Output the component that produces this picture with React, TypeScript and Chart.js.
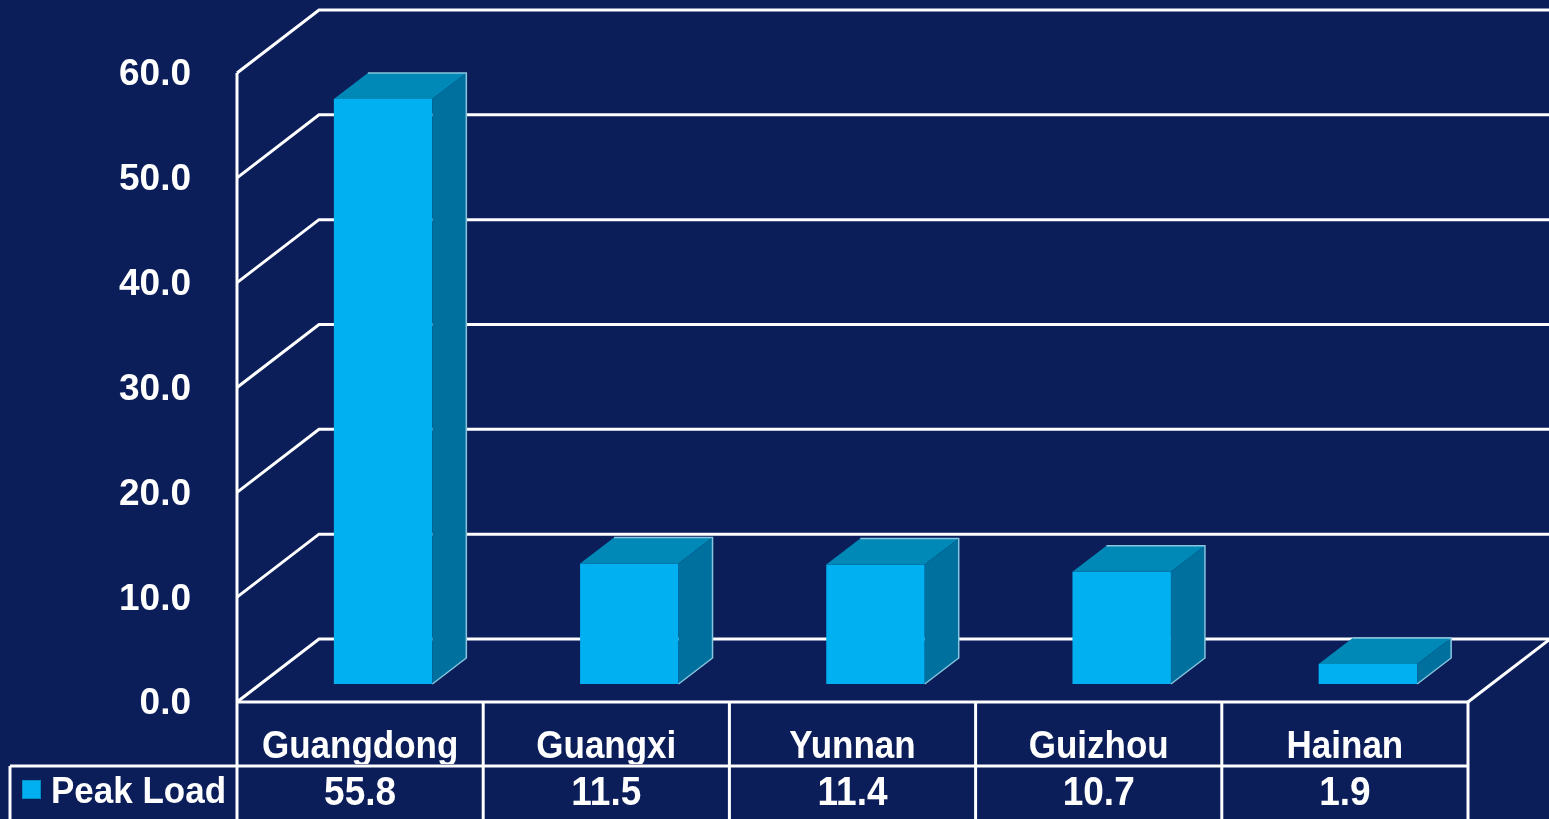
import React, { useEffect, useRef } from 'react';
import { Chart, registerables } from 'chart.js';

Chart.register(...registerables);

const categories = ['Guangdong', 'Guangxi', 'Yunnan', 'Guizhou', 'Hainan'];
const peakLoad = [55.8, 11.5, 11.4, 10.7, 1.9];
const seriesName = 'Peak Load';
const yTicks = [0, 10, 20, 30, 40, 50, 60];

const W = 1549;
const H = 819;
const BG = '#0b1e5a';
const FRONT = '#00b0f0';
const TOP = '#0088b6';
const SIDE = '#00709e';
const EDGE = '#86c6de';
const LINE = '#ffffff';
const FONT = 'Liberation Sans, Arial, sans-serif';

const WALL_DX = 82;
const WALL_DY = -63;
const BAR_OFF_X = 23;
const BAR_OFF_Y = -18;
const BAR_DX = 34;
const BAR_DY = -26;

function stretchText(ctx: CanvasRenderingContext2D, text: string, x: number, y: number, align: CanvasTextAlign, size: number, sy: number) {
  ctx.save();
  ctx.translate(x, y);
  ctx.scale(1, sy);
  ctx.font = `bold ${size}px ${FONT}`;
  ctx.textAlign = align;
  ctx.textBaseline = 'middle';
  ctx.fillStyle = '#ffffff';
  ctx.fillText(text, 0, 0);
  ctx.restore();
}

const plot3d = {
  id: 'plot3d',
  beforeDraw(chart: any) {
    const { ctx } = chart;
    ctx.save();
    ctx.fillStyle = BG;
    ctx.fillRect(0, 0, chart.width, chart.height);
    ctx.restore();
  },
  beforeDatasetsDraw(chart: any) {
    const { ctx, chartArea, scales } = chart;
    const { left, right, top, bottom } = chartArea;
    const y = scales.y;
    ctx.save();
    ctx.strokeStyle = LINE;
    ctx.lineWidth = 3;
    ctx.lineJoin = 'miter';
    ctx.lineCap = 'butt';
    yTicks.forEach((v) => {
      const py = y.getPixelForValue(v);
      ctx.beginPath();
      ctx.moveTo(left, py);
      ctx.lineTo(left + WALL_DX, py + WALL_DY);
      ctx.lineTo(v === 0 ? right + WALL_DX : chart.width, py + WALL_DY);
      ctx.stroke();
    });
    // right floor edge
    ctx.beginPath();
    ctx.moveTo(right, bottom);
    ctx.lineTo(right + WALL_DX, bottom + WALL_DY);
    ctx.stroke();
    // front axis
    ctx.beginPath();
    ctx.moveTo(left, top);
    ctx.lineTo(left, bottom);
    ctx.stroke();
    ctx.restore();
    ctx.save();
    ctx.translate(BAR_OFF_X, BAR_OFF_Y);
  },
  afterDatasetsDraw(chart: any) {
    const { ctx } = chart;
    const meta = chart.getDatasetMeta(0);
    meta.data.forEach((el: any) => {
      const { x, y, base, width } = el.getProps(['x', 'y', 'base', 'width'], true);
      const l = x - width / 2;
      const r = x + width / 2;
      ctx.fillStyle = TOP;
      ctx.beginPath();
      ctx.moveTo(l, y);
      ctx.lineTo(l + BAR_DX, y + BAR_DY);
      ctx.lineTo(r + BAR_DX, y + BAR_DY);
      ctx.lineTo(r, y);
      ctx.closePath();
      ctx.fill();
      ctx.fillStyle = SIDE;
      ctx.beginPath();
      ctx.moveTo(r, y);
      ctx.lineTo(r + BAR_DX, y + BAR_DY);
      ctx.lineTo(r + BAR_DX, base + BAR_DY);
      ctx.lineTo(r, base);
      ctx.closePath();
      ctx.fill();
      ctx.strokeStyle = EDGE;
      ctx.lineWidth = 1.5;
      ctx.beginPath();
      ctx.moveTo(l + BAR_DX, y + BAR_DY);
      ctx.lineTo(r + BAR_DX, y + BAR_DY);
      ctx.lineTo(r + BAR_DX, base + BAR_DY);
      ctx.lineTo(r, base);
      ctx.stroke();
    });
    ctx.restore();
  },
  afterDraw(chart: any) {
    const { ctx, chartArea, scales } = chart;
    const { left, right, bottom } = chartArea;
    const x = scales.x;
    const y = scales.y;
    const H2 = chart.height;
    const step = x.getPixelForValue(1) - x.getPixelForValue(0);
    const row1 = bottom;
    const row2 = bottom + 64;
    const legendLeft = 10;
    ctx.save();
    ctx.strokeStyle = LINE;
    ctx.lineWidth = 3;
    ctx.beginPath();
    ctx.moveTo(left, row1);
    ctx.lineTo(right, row1);
    ctx.moveTo(legendLeft, row2);
    ctx.lineTo(right, row2);
    for (let i = 0; i <= categories.length; i++) {
      const px = x.getPixelForValue(0) - step / 2 + i * step;
      ctx.moveTo(px, row1);
      ctx.lineTo(px, H2 + 2);
    }
    ctx.moveTo(legendLeft, row2);
    ctx.lineTo(legendLeft, H2 + 2);
    ctx.stroke();
    ctx.restore();

    // y labels
    yTicks.forEach((v) => {
      stretchText(ctx, v.toFixed(1), left - 46, y.getPixelForValue(v) + 2, 'right', 37, 1.02);
    });

    // category labels (clipped to row)
    ctx.save();
    ctx.beginPath();
    ctx.rect(0, row1 + 2, chart.width, row2 - row1 - 4);
    ctx.clip();
    categories.forEach((c, i) => {
      stretchText(ctx, c, x.getPixelForValue(i), row1 + 45, 'center', 35, 1.1);
    });
    ctx.restore();

    peakLoad.forEach((v, i) => {
      stretchText(ctx, v.toFixed(1), x.getPixelForValue(i), row2 + 28, 'center', 37, 1.08);
    });

    // legend
    ctx.save();
    ctx.fillStyle = FRONT;
    ctx.fillRect(22, row2 + 14, 19, 19);
    ctx.strokeStyle = '#0090c8';
    ctx.lineWidth = 1;
    ctx.strokeRect(22.5, row2 + 14.5, 18, 18);
    ctx.restore();
    stretchText(ctx, seriesName, 51, row2 + 27, 'left', 35, 1.08);
  },
};

export default function App() {
  const ref = useRef<HTMLCanvasElement | null>(null);
  useEffect(() => {
    document.body.style.margin = '0';
    document.body.style.background = BG;
    const canvas = ref.current;
    if (!canvas) return;
    const chart = new Chart(canvas, {
      type: 'bar',
      data: {
        labels: categories,
        datasets: [
          {
            label: seriesName,
            data: peakLoad,
            backgroundColor: FRONT,
            borderWidth: 0,
            barPercentage: 0.4,
            categoryPercentage: 1.0,
          },
        ],
      },
      options: {
        responsive: false,
        animation: false,
        devicePixelRatio: 1,
        layout: { padding: { left: 237, right: W - 1468, top: 73, bottom: H - 702 } },
        plugins: { legend: { display: false }, tooltip: { enabled: false } },
        scales: {
          x: { display: false, offset: true },
          y: { display: false, min: 0, max: 60, ticks: { stepSize: 10 } },
        },
      },
      plugins: [plot3d],
    });
    return () => chart.destroy();
  }, []);
  return <canvas ref={ref} width={W} height={H} style={{ display: 'block' }} />;
}
